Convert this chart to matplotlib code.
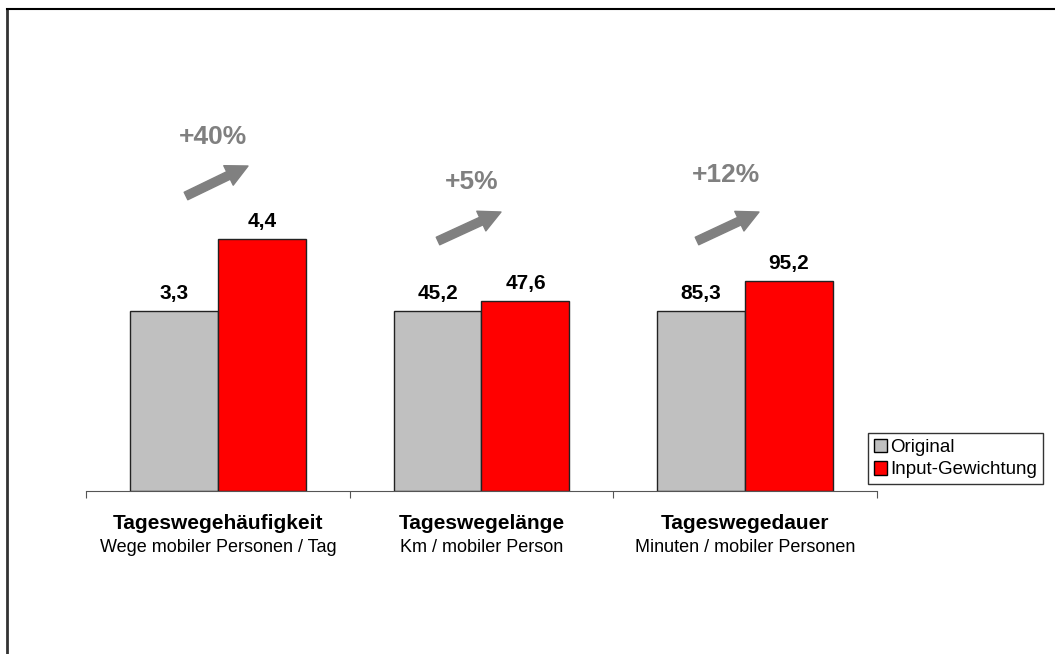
import matplotlib.pyplot as plt
import numpy as np
from matplotlib.patches import Patch

plt.rcParams["font.family"] = ["Liberation Sans", "DejaVu Sans"]

categories = ["Tageswegehäufigkeit", "Tageswegelänge", "Tageswegedauer"]
subtitles = ["Wege mobiler Personen / Tag", "Km / mobiler Person", "Minuten / mobiler Personen"]
series_names = ["Original", "Input-Gewichtung"]
# bar heights as index (Original = 100)
original_index = [100, 100, 100]
weighted_index = [140, 105.5, 116.5]
original_labels = ["3,3", "45,2", "85,3"]
weighted_labels = ["4,4", "47,6", "95,2"]
change_labels = ["+40%", "+5%", "+12%"]

GREY = "#c0c0c0"
RED = "#ff0000"
ARROW_GREY = "#808080"

W, H = 1055, 654
fig = plt.figure(figsize=(W / 100, H / 100), dpi=100)
ax = fig.add_axes([86 / W, (H - 491) / H, 791 / W, 411 / H])

x = np.arange(len(categories))
bw = 1 / 3
bars_o = ax.bar(x - bw / 2, original_index, bw, color=GREY, edgecolor="#222222", linewidth=1)
bars_w = ax.bar(x + bw / 2, weighted_index, bw, color=RED, edgecolor="#222222", linewidth=1)

for bars, labels in ((bars_o, original_labels), (bars_w, weighted_labels)):
    for b, lab in zip(bars, labels):
        ax.annotate(lab, (b.get_x() + b.get_width() / 2, b.get_height()),
                    xytext=(0, 6), textcoords="offset points",
                    ha="center", va="bottom", fontsize=15, fontweight="bold")

ax.set_xlim(-0.5, 2.5)
ax.set_ylim(0, 228.3)
for s in ("top", "right", "left"):
    ax.spines[s].set_visible(False)
ax.spines["bottom"].set_color("#555555")
ax.set_yticks([])
ax.set_xticks([-0.5, 0.5, 1.5, 2.5])
ax.set_xticklabels([])
ax.tick_params(axis="x", length=5, color="#555555", direction="out")

for i, (cat, sub) in enumerate(zip(categories, subtitles)):
    ax.text(i, -0.078, cat, transform=ax.get_xaxis_transform(),
            ha="center", va="center", fontsize=15, fontweight="bold")
    ax.text(i, -0.137, sub, transform=ax.get_xaxis_transform(),
            ha="center", va="center", fontsize=13)

# change arrows and percentages (figure pixel positions)
arrow_tails = [(186, 458), (438, 413), (697, 413)]
arrow_tips = [(248, 488), (501, 442), (759, 442)]
pct_pos = [(213, 517), (472, 472), (726, 479)]
for tail, tip, pos, lab in zip(arrow_tails, arrow_tips, pct_pos, change_labels):
    ax.annotate("", xy=tip, xytext=tail, xycoords="figure pixels", textcoords="figure pixels",
                arrowprops=dict(arrowstyle="simple,head_width=1.3,head_length=1.3,tail_width=0.5",
                                mutation_scale=12, color=ARROW_GREY, shrinkA=0, shrinkB=0))
    fig.text(pos[0] / W, pos[1] / H, lab, ha="center", va="center",
             fontsize=19, fontweight="bold", color=ARROW_GREY)

handles = [Patch(facecolor=GREY, edgecolor="black"), Patch(facecolor=RED, edgecolor="black")]
leg = fig.legend(handles, series_names, loc="upper left", bbox_to_anchor=(868 / W, 1 - 433 / H),
                 fontsize=13.5, frameon=True, fancybox=False, handlelength=0.7, handleheight=0.7,
                 handletextpad=0.2, borderpad=0.3, labelspacing=0.3, borderaxespad=0)
leg.get_frame().set_edgecolor("black")
leg.get_frame().set_linewidth(1)

# outer frame (top and left edges visible)
fig.add_artist(plt.Line2D([7 / W, 7 / W], [0, 1 - 9 / H], color="#333333", linewidth=2))
fig.add_artist(plt.Line2D([7 / W, 1], [1 - 9 / H, 1 - 9 / H], color="black", linewidth=1.5))

fig.savefig("out.png", dpi=100)
